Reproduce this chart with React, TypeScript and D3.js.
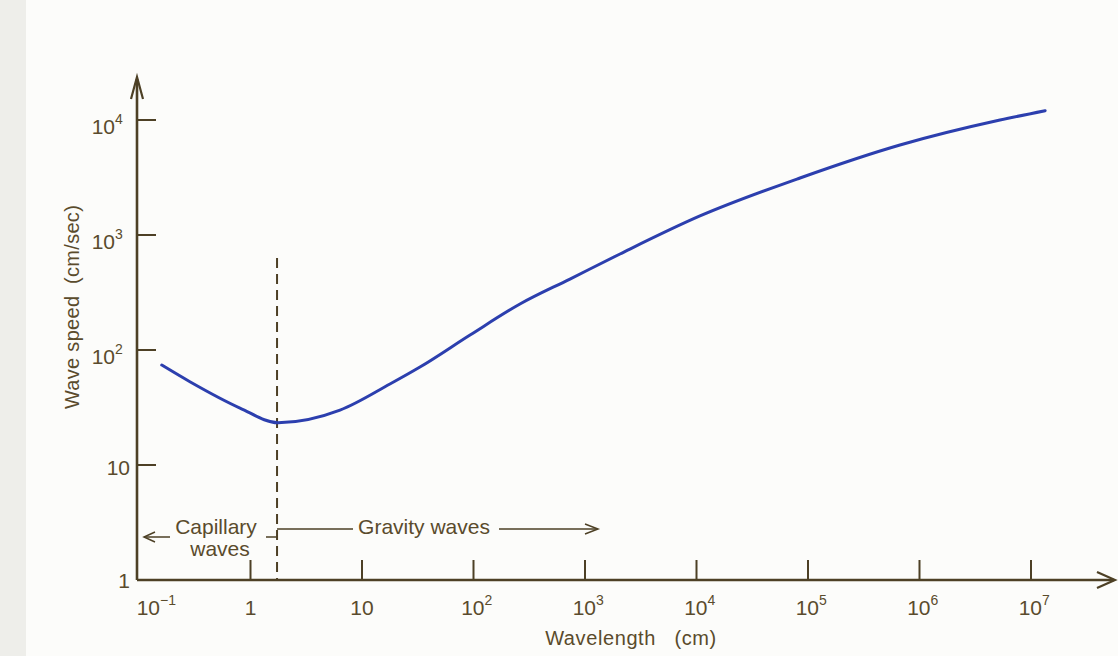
import React from 'react';
import * as d3 from 'd3';

// wave speed vs wavelength
const wavelengthCm = [0.16, 0.286, 0.805, 1.77, 6.35, 17.8, 33.1, 93.1, 261, 733, 2061, 10740, 84800, 668000, 5.27e6, 1.34e7];
const speedCmS = [74, 53, 31.3, 23.3, 30, 50.6, 71.1, 135, 251, 414, 684, 1463, 3133, 6063, 10000, 12050];

const xTicks = [0.1, 1, 10, 1e2, 1e3, 1e4, 1e5, 1e6, 1e7];
const xTickBase = ['10', '1', '10', '10', '10', '10', '10', '10', '10'];
const xTickExp = ['\u22121', '', '', '2', '3', '4', '5', '6', '7'];
const yTicks = [1, 10, 1e2, 1e3, 1e4];
const yTickBase = ['1', '10', '10', '10', '10'];
const yTickExp = ['', '', '2', '3', '4'];

const boundaryCm = 1.73; // capillary / gravity split

const ink = '#4d4025';
const textInk = '#5a4b2c';
const blue = '#2c3fae';
const font = '"Liberation Sans", Arial, sans-serif';

const App = () => {
  const width = 1118;
  const height = 656;
  const x0 = 137;
  const y0 = 580;

  const x = d3.scaleLog().domain([0.1, 1e7]).range([139, 1031]);
  const y = d3.scaleLog().domain([1, 1e4]).range([y0, 120]);

  const pts: [number, number][] = wavelengthCm.map((w, i) => [x(w), y(speedCmS[i])]);
  const line = d3.line().curve(d3.curveMonotoneX);
  const path = line(pts) || '';

  const xb = x(boundaryCm);

  return (
    <div style={{ position: 'absolute', left: 0, top: 0 }}>
      <svg width={width} height={height} style={{ display: 'block' }} fontFamily={font}>
        <rect x={0} y={0} width={width} height={height} fill="#fcfcfa" />
        <rect x={0} y={0} width={26} height={height} fill="#eeeeea" />

        {/* axes */}
        <line x1={x0} y1={y0} x2={1114} y2={y0} stroke={ink} strokeWidth={2.6} />
        <polyline points={`1097,572 1115,${y0} 1097,588`} fill="none" stroke={ink} strokeWidth={2.2} />
        <line x1={x0} y1={y0} x2={x0} y2={79} stroke={ink} strokeWidth={2.6} />
        <polyline points={`${x0 - 6},99 ${x0},77 ${x0 + 6},99`} fill="none" stroke={ink} strokeWidth={2.2} />

        {xTicks.map((t, i) => {
          const lx = i === 0 ? x(t) + 10 : x(t);
          return (
            <g key={'xt' + i}>
              {i > 0 && <line x1={x(t)} y1={y0} x2={x(t)} y2={y0 - 20} stroke={ink} strokeWidth={2} />}
              <text
                x={xTickExp[i] ? lx + 11 : lx}
                y={615}
                fontSize={21}
                fill={textInk}
                textAnchor={xTickExp[i] ? 'end' : 'middle'}
              >
                {xTickBase[i]}
              </text>
              {xTickExp[i] && (
                <text x={lx + 11} y={605} fontSize={14} fill={textInk}>
                  {xTickExp[i]}
                </text>
              )}
            </g>
          );
        })}

        {yTicks.map((t, i) => (
          <g key={'yt' + i}>
            {i > 0 && <line x1={x0} y1={y(t)} x2={x0 + 19} y2={y(t)} stroke={ink} strokeWidth={2} />}
            <text
              x={yTickExp[i] ? 115 : 130}
              y={y(t) + (yTickExp[i] ? 14 : i === 0 ? 8 : 10)}
              fontSize={21}
              fill={textInk}
              textAnchor="end"
            >
              {yTickBase[i]}
            </text>
            {yTickExp[i] && (
              <text x={115} y={y(t) + 4} fontSize={14} fill={textInk}>
                {yTickExp[i]}
              </text>
            )}
          </g>
        ))}

        <text x={631} y={645} fontSize={20} fill={textInk} textAnchor="middle" letterSpacing={0.6}>
          Wavelength&#160;&#160;&#160;(cm)
        </text>
        <text
          transform="translate(79,307) rotate(-90)"
          fontSize={20}
          fill={textInk}
          textAnchor="middle"
          letterSpacing={0.3}
        >
          Wave speed&#160;&#160;(cm/sec)
        </text>

        {/* capillary / gravity boundary */}
        <line x1={xb} y1={258} x2={xb} y2={y0} stroke={ink} strokeWidth={2} strokeDasharray="10,6" />

        <text x={216} y={534} fontSize={21} fill={textInk} textAnchor="middle">Capillary</text>
        <text x={220} y={556} fontSize={21} fill={textInk} textAnchor="middle">waves</text>
        <line x1={144} y1={537} x2={170} y2={537} stroke={ink} strokeWidth={1.5} />
        <polyline points="155,532 144,537 155,542" fill="none" stroke={ink} strokeWidth={1.5} />
        <line x1={266} y1={537} x2={xb} y2={537} stroke={ink} strokeWidth={1.5} />

        <line x1={xb} y1={529} x2={353} y2={529} stroke={ink} strokeWidth={1.5} />
        <text x={424} y={534} fontSize={21} fill={textInk} textAnchor="middle">Gravity waves</text>
        <line x1={499} y1={529} x2={597} y2={529} stroke={ink} strokeWidth={1.5} />
        <polyline points="585,524 598,529 585,534" fill="none" stroke={ink} strokeWidth={1.5} />

        {/* speed curve */}
        <path d={path} fill="none" stroke={blue} strokeWidth={3} strokeLinecap="round" />
      </svg>
    </div>
  );
};

export default App;
